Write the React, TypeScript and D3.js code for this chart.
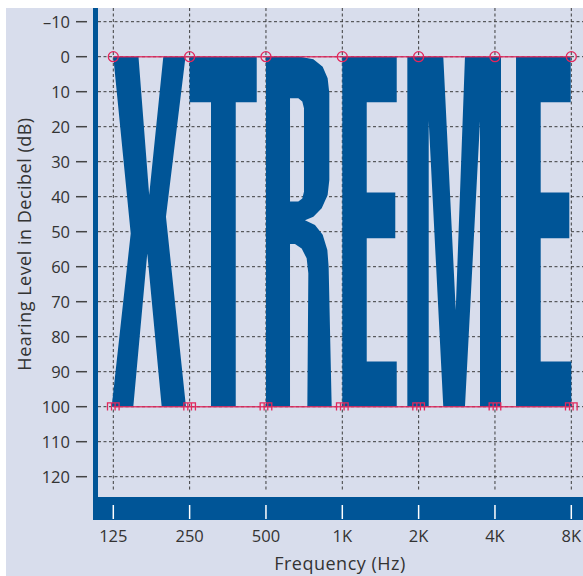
import React from 'react';
import * as d3 from 'd3';

// ---------- data ----------
const FREQS = [125, 250, 500, 1000, 2000, 4000, 8000];
const FREQ_LABELS = ['125', '250', '500', '1K', '2K', '4K', '8K'];
const DB_TICKS = [-10, 0, 10, 20, 30, 40, 50, 60, 70, 80, 90, 100, 110, 120];
const DB_LABELS = ['–10', '0', '10', '20', '30', '40', '50', '60', '70', '80', '90', '100', '110', '120'];
const AIR_THRESHOLDS = [0, 0, 0, 0, 0, 0, 0];
const BONE_THRESHOLDS = [100, 100, 100, 100, 100, 100, 100];

// letter outlines: [octaves above 125 Hz, dB HL]
const LETTER_X: [number, number][] = [[0, 0], [0.33, 0], [0.47, 39.5], [0.655, 0], [0.946, 0], [0.69, 45.7], [0.952, 100], [0.634, 100], [0.445, 56.2], [0.262, 100], [-0.021, 100], [0.228, 50.5]];
const LETTER_T: [number, number][] = [[1.0, 0], [1.879, 0], [1.879, 13], [1.604, 13], [1.604, 100], [1.28, 100], [1.28, 13], [1.0, 13]];
const LETTER_R_OUTER: [number, number][] = [[2.0, 0], [2.446, 0], [2.621, 0.76], [2.743, 2.85], [2.808, 6.18], [2.83, 10.47], [2.83, 35.2], [2.808, 39.5], [2.73, 43.3], [2.621, 45.7], [2.511, 46.7], [2.642, 48.1], [2.743, 50.9], [2.804, 55.2], [2.821, 60.0], [2.861, 100], [2.542, 100], [2.555, 61.9], [2.533, 57.6], [2.468, 54.8], [2.38, 53.5], [2.315, 53.5], [2.315, 100], [2.0, 100]];
const LETTER_R_COUNTER: [number, number][] = [[2.315, 11.9], [2.424, 11.9], [2.476, 12.8], [2.498, 14.75], [2.498, 38.6], [2.476, 40.5], [2.424, 41.4], [2.315, 41.4]];
const LETTER_E1: [number, number][] = [[3, 0], [3.713, 0], [3.713, 13], [3.32, 13], [3.32, 38.8], [3.694, 38.8], [3.694, 51.9], [3.32, 51.9], [3.32, 87.1], [3.713, 87.1], [3.713, 100], [3, 100]];
const LETTER_M: [number, number][] = [[3.852, 0], [4.323, 0], [4.486, 72.4], [4.607, 0], [5.079, 0], [5.079, 100], [4.804, 100], [4.804, 18.4], [4.607, 100], [4.323, 100], [4.132, 18.4], [4.132, 100], [3.852, 100]];
const LETTER_E2: [number, number][] = [[5.276, 0], [5.992, 0], [5.992, 13], [5.599, 13], [5.599, 38.8], [5.974, 38.8], [5.974, 51.9], [5.599, 51.9], [5.599, 87.1], [6.0, 87.1], [6.0, 100], [5.276, 100]];

const BG = '#d8ddec';
const BLUE = '#005597';
const RED = '#e2275c';
const GRID = '#3c3c3c';
const TXT = '#333333';
const FONT = '"Open Sans", sans-serif';

export default function App() {
  const W = 583, H = 576;
  const x = d3.scaleLog().base(2).domain([125, 8000]).range([113.3, 571.3]);
  const y = d3.scaleLinear().domain([-10, 120]).range([21.7, 476.7]);
  const ox = (o: number) => x(125 * Math.pow(2, o));
  const line = d3.line<[number, number]>().x(d => ox(d[0])).y(d => y(d[1]));
  const poly = (pts: [number, number][]) => (line(pts) || '') + 'Z';

  const plotL = 98, plotT = 8, plotR = 583, plotB = 497;

  return (
    <svg width={W} height={H} style={{ position: 'absolute', left: 0, top: 0 }} fontFamily={FONT}>
      <rect x={0} y={0} width={W} height={H} fill="#ffffff" />
      <rect x={6} y={8} width={W - 6} height={H - 8} fill={BG} />

      {/* grid */}
      {DB_TICKS.map(t => (
        <line key={'h' + t} x1={plotL} x2={plotR} y1={y(t)} y2={y(t)} stroke={GRID} strokeWidth={1} strokeDasharray="3,2.5" />
      ))}
      {FREQS.map(f => (
        <line key={'v' + f} x1={x(f)} x2={x(f)} y1={plotT} y2={492} stroke={GRID} strokeWidth={1} strokeDasharray="3,2.5" />
      ))}

      {/* letters */}
      <g fill={BLUE}>
        <path d={poly(LETTER_X)} />
        <path d={poly(LETTER_T)} />
        <path d={poly(LETTER_R_OUTER) + poly(LETTER_R_COUNTER)} fillRule="evenodd" />
        <path d={poly(LETTER_E1)} />
        <path d={poly(LETTER_M)} />
        <path d={poly(LETTER_E2)} />
      </g>

      {/* frame bars */}
      <rect x={93} y={plotT} width={5} height={520 - plotT} fill={BLUE} />
      <rect x={93} y={plotB} width={W - 93} height={23} fill={BLUE} />
      {FREQS.map(f => (
        <line key={'wt' + f} x1={x(f)} x2={x(f)} y1={505} y2={519} stroke="#ffffff" strokeWidth={1.5} />
      ))}

      {/* y ticks */}
      {DB_TICKS.map((t, i) => (
        <g key={'yt' + t}>
          <line x1={76} x2={87} y1={y(t)} y2={y(t)} stroke="#444" strokeWidth={1.5} />
          <text x={70} y={y(t)} dy="0.36em" textAnchor="end" fontSize={16.5} fill={TXT}>{DB_LABELS[i]}</text>
        </g>
      ))}

      {/* x tick labels */}
      {FREQS.map((f, i) => (
        <text key={'xl' + f} x={x(f)} y={542} textAnchor="middle" fontSize={16.5} fill={TXT}>{FREQ_LABELS[i]}</text>
      ))}

      {/* threshold lines */}
      <path d={d3.line<number>().x((_, i) => x(FREQS[i])).y(d => y(d))(AIR_THRESHOLDS) || ''} fill="none" stroke={RED} strokeWidth={1.5} strokeOpacity={0.85} />
      <path d={d3.line<number>().x((_, i) => x(FREQS[i])).y(d => y(d))(BONE_THRESHOLDS) || ''} fill="none" stroke={RED} strokeWidth={1.5} strokeOpacity={0.85} />

      {/* markers */}
      {AIR_THRESHOLDS.map((d, i) => (
        <circle key={'c' + i} cx={x(FREQS[i])} cy={y(d)} r={5} fill="none" stroke={RED} strokeWidth={1.3} />
      ))}
      {BONE_THRESHOLDS.map((d, i) => {
        const cx = x(FREQS[i]), cy = y(d);
        const sq = (c: number) => `M${c - 3.8},${cy + 3.7}V${cy - 3.8}H${c + 3.8}V${cy + 3.7}`;
        return <path key={'b' + i} d={sq(cx - 2) + sq(cx + 2)} fill="none" stroke={RED} strokeWidth={1.3} />;
      })}

      {/* axis titles */}
      <text x={340} y={570} textAnchor="middle" fontSize={18} letterSpacing={0.5} fill={TXT}>Frequency (Hz)</text>
      <text transform={`translate(31,244) rotate(-90)`} textAnchor="middle" fontSize={18} letterSpacing={0.5} fill={TXT}>Hearing Level in Decibel (dB)</text>
    </svg>
  );
}
